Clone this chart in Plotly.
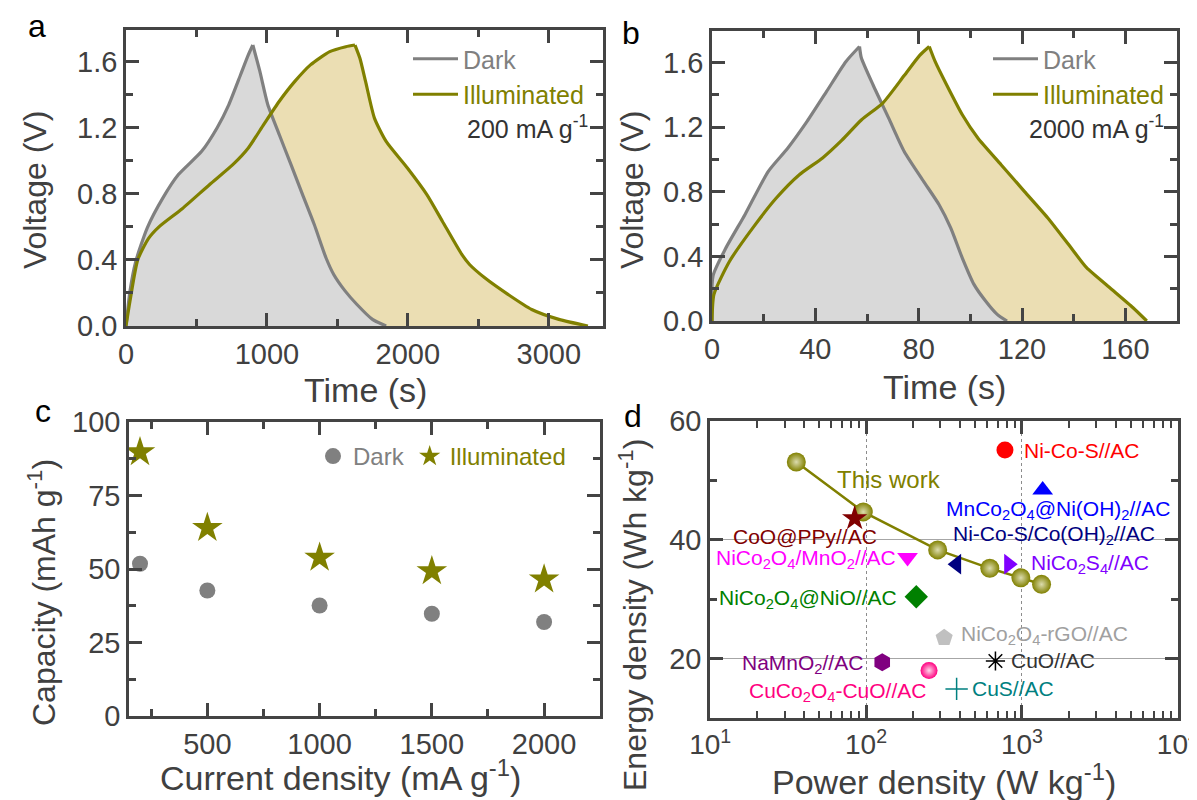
import numpy as np
import plotly.graph_objects as go

W, H = 1197, 800

# ---------------- data ----------------
# (a) GCD at 200 mA g-1
a_dark_t = [0, 28, 69, 151, 262, 372, 537, 647, 730, 813, 868, 900, 950, 1006, 1088, 1171, 1253, 1336, 1419, 1474, 1556, 1639, 1749, 1846]
a_dark_v = [0, 0.21, 0.39, 0.594, 0.775, 0.916, 1.057, 1.2, 1.34, 1.52, 1.64, 1.70, 1.54, 1.34, 1.157, 0.976, 0.795, 0.614, 0.413, 0.312, 0.211, 0.13, 0.04, 0.0]
a_illum_t = [0, 28, 83, 160, 234, 399, 592, 758, 868, 978, 1088, 1198, 1309, 1446, 1560, 1625, 1660, 1700, 1763, 1846, 1997, 2135, 2245, 2383, 2438, 2548, 2713, 2879, 3072, 3278]
a_illum_v = [0, 0.15, 0.40, 0.53, 0.60, 0.71, 0.855, 0.976, 1.077, 1.22, 1.36, 1.48, 1.58, 1.66, 1.69, 1.70, 1.62, 1.48, 1.258, 1.117, 0.956, 0.795, 0.634, 0.433, 0.372, 0.29, 0.19, 0.10, 0.04, 0.0]

# (b) GCD at 2000 mA g-1
b_dark_t = [0, 0.4, 5.3, 12.8, 21.8, 29.3, 36.8, 44.3, 51.8, 57.1, 57.8, 62.4, 68.4, 74.4, 81.9, 87.9, 92.4, 96.9, 101.4, 105.9, 110.4, 114.2]
b_dark_v = [0, 0.28, 0.45, 0.66, 0.927, 1.07, 1.236, 1.42, 1.606, 1.70, 1.63, 1.46, 1.256, 1.05, 0.865, 0.72, 0.577, 0.39, 0.227, 0.124, 0.041, 0.0]
b_illum_t = [0, 0.75, 6.8, 15.8, 24.8, 33.8, 42.8, 50.3, 57.8, 66.1, 74.4, 80.4, 84.1, 86.4, 90.9, 96.9, 102.9, 111.9, 120.9, 130, 139, 145, 154, 163, 168.3]
b_illum_v = [0, 0.165, 0.37, 0.577, 0.76, 0.906, 1.01, 1.12, 1.245, 1.35, 1.52, 1.645, 1.70, 1.606, 1.46, 1.277, 1.133, 0.968, 0.803, 0.638, 0.453, 0.33, 0.206, 0.082, 0.0]

# (c) capacity vs current density
c_current = [200, 500, 1000, 1500, 2000]
c_dark_cap = [51.8, 42.7, 37.6, 34.8, 32.0]
c_illum_cap = [89.8, 64.0, 53.9, 49.3, 46.5]

# (d) Ragone plot
d_work_power = [35.7, 96, 288, 622, 984, 1336]
d_work_energy = [53.1, 44.7, 38.3, 35.2, 33.6, 32.5]
d_ref_names = ["Ni-Co-S//AC",
               "MnCo<sub>2</sub>O<sub>4</sub>@Ni(OH)<sub>2</sub>//AC",
               "Ni-Co-S/Co(OH)<sub>2</sub>//AC",
               "NiCo<sub>2</sub>S<sub>4</sub>//AC",
               "CoO@PPy//AC",
               "NiCo<sub>2</sub>O<sub>4</sub>/MnO<sub>2</sub>//AC",
               "NiCo<sub>2</sub>O<sub>4</sub>@NiO//AC",
               "NiCo<sub>2</sub>O<sub>4</sub>-rGO//AC",
               "NaMnO<sub>2</sub>//AC",
               "CuCo<sub>2</sub>O<sub>4</sub>-CuO//AC",
               "CuO//AC",
               "CuS//AC"]
d_ref_power = [778, 1358, 381, 822, 84.5, 184.5, 210, 317, 127, 253.5, 676, 381]
d_ref_energy = [55.1, 48.4, 35.9, 35.9, 43.6, 37.0, 30.4, 23.5, 19.4, 18.0, 19.6, 14.9]
d_x_tickvals = [10, 100, 1000, 10000]
d_x_ticktext = ["10<sup>1</sup>", "10<sup>2</sup>", "10<sup>3</sup>", "10<sup>4</sup>"]
d_x_minorvals = [k * 10 ** e for e in (1, 2, 3) for k in range(2, 10)]

# ---------------- styles ----------------
GREY = "#808080"
OLIVE = "#808000"
GREY_FILL = "#d9d9d9"
TAN_FILL = "#ebdeb3"
AX = "#444444"
TXT = "#404040"
FONT = "Liberation Sans, Arial, sans-serif"

# symbol, marker colour, size, label colour, xanchor, xshift, yshift
d_ref_style = [
    ("circle", "#ff0000", 17, "#ff0000", "left", 17, 0),
    ("triangle-up", "#0000ff", 18, "#0000ff", "right", 129, -20),
    ("triangle-left", "#000080", 18, "#000080", "left", -6, 29),
    ("triangle-right", "#8000ff", 18, "#8000ff", "left", 20, 0),
    ("star", "#800000", 19, "#800000", "right", 24, -18),
    ("triangle-down", "#ff00ff", 18, "#ff00ff", "right", -10, -1),
    ("diamond", "#008000", 18, "#008000", "right", -17, -2),
    ("pentagon", "#c0c0c0", 18, "#a0a0a0", "left", 15, 3),
    ("hexagon", "#800080", 18, "#800080", "right", -17, -2),
    ("circle", "#ff0080", 17, "#ff0080", "right", -1, -22),
    ("asterisk-open", "#000000", 16, "#333333", "left", 14, 0),
    ("cross-thin-open", "#008080", 16, "#008080", "left", 13, 0),
]


def xd(l, r):
    return [l / W, r / W]


def yd(top, bottom):
    return [1 - bottom / H, 1 - top / H]


def split(t, v):
    k = int(np.argmax(v))
    return (t[:k + 1], v[:k + 1]), (t[k:], v[k:])


fig = go.Figure()


def add_gcd(t_d, v_d, t_i, v_i, xa, ya, legend):
    fig.add_trace(go.Scatter(x=t_i, y=v_i, mode="none", fill="tozeroy", fillcolor=TAN_FILL,
                             showlegend=False, hoverinfo="skip", xaxis=xa, yaxis=ya))
    fig.add_trace(go.Scatter(x=t_d, y=v_d, mode="none", fill="tozeroy", fillcolor=GREY_FILL,
                             showlegend=False, hoverinfo="skip", xaxis=xa, yaxis=ya))
    for j, (tt, vv) in enumerate(split(t_d, v_d)):
        fig.add_trace(go.Scatter(x=tt, y=vv, mode="lines",
                                 line=dict(color=GREY, width=3.2, shape="spline", smoothing=0.6),
                                 name='<span style="color:#808080">Dark</span>',
                                 showlegend=(j == 0), legend=legend, legendgroup=legend + "d",
                                 xaxis=xa, yaxis=ya))
    for j, (tt, vv) in enumerate(split(t_i, v_i)):
        fig.add_trace(go.Scatter(x=tt, y=vv, mode="lines",
                                 line=dict(color=OLIVE, width=3.2, shape="spline", smoothing=0.6),
                                 name='<span style="color:#808000">Illuminated</span>',
                                 showlegend=(j == 0), legend=legend, legendgroup=legend + "i",
                                 xaxis=xa, yaxis=ya))


add_gcd(a_dark_t, a_dark_v, a_illum_t, a_illum_v, "x", "y", "legend")
add_gcd(b_dark_t, b_dark_v, b_illum_t, b_illum_v, "x2", "y2", "legend2")

# (c)
fig.add_trace(go.Scatter(x=c_current, y=c_dark_cap, mode="markers",
                         marker=dict(symbol="circle", size=16, color=GREY),
                         name='<span style="color:#808080">Dark</span>', legend="legend3",
                         xaxis="x3", yaxis="y3"))
fig.add_trace(go.Scatter(x=c_current, y=c_illum_cap, mode="markers",
                         marker=dict(symbol="star", size=23, color=OLIVE),
                         name='<span style="color:#808000">Illuminated</span>', legend="legend3",
                         xaxis="x3", yaxis="y3"))

# (d)
# invisible carrier trace so the minor-tick overlay axis gets drawn
fig.add_trace(go.Scatter(x=d_work_power, y=d_work_energy, mode="none", showlegend=False,
                         hoverinfo="skip", xaxis="x5", yaxis="y4"))
fig.add_trace(go.Scatter(x=d_work_power, y=d_work_energy, mode="lines+markers",
                         line=dict(color=OLIVE, width=2.5),
                         marker=dict(size=19, color=OLIVE,
                                     gradient=dict(type="radial", color="#dcdcae")),
                         showlegend=False, xaxis="x4", yaxis="y4"))
annotations = []
for name, p, e, st in zip(d_ref_names, d_ref_power, d_ref_energy, d_ref_style):
    sym, col, size, lcol, xa, xs, ys = st
    mk = dict(symbol=sym, size=size, color=col)
    if sym.endswith("-open"):
        mk["line"] = dict(color=col, width=1.5)
    if name.startswith("CuCo"):
        mk["gradient"] = dict(type="radial", color="#ffd6ea")
    fig.add_trace(go.Scatter(x=[p], y=[e], mode="markers", marker=mk, showlegend=False,
                             xaxis="x4", yaxis="y4"))
    annotations.append(dict(x=np.log10(p), y=e, xref="x4", yref="y4", text=name, showarrow=False,
                            xanchor=xa, yanchor="middle", xshift=xs, yshift=ys,
                            font=dict(size=21, color=lcol, family=FONT)))
annotations.append(dict(x=np.log10(d_work_power[1]), y=d_work_energy[1], xref="x4", yref="y4",
                        text="This work", showarrow=False, xanchor="left", yanchor="middle",
                        xshift=-28, yshift=32, font=dict(size=24, color=OLIVE, family=FONT)))


def pa(x, y, text, size, color="#333333", xanchor="center", angle=0):
    annotations.append(dict(x=x / W, y=1 - y / H, xref="paper", yref="paper", text=text,
                            showarrow=False, xanchor=xanchor, yanchor="middle", textangle=angle,
                            font=dict(size=size, color=color, family=FONT)))


pa(29, 18, "a", 32, "#000000")
pa(623, 25, "b", 32, "#000000")
pa(35, 403, "c", 32, "#000000")
pa(625, 408, "d", 32, "#000000")
pa(457, 119, "200 mA g<sup>-1</sup>", 25, "#333333", "left")
pa(1019, 119, "2000 mA g<sup>-1</sup>", 25, "#333333", "left")
pa(27, 182, "Voltage (V)", 32, TXT, angle=-90)
pa(624, 182, "Voltage (V)", 32, TXT, angle=-90)
pa(34, 585, "Capacity (mAh g<sup>-1</sup>)", 32, TXT, angle=-90)
pa(625, 607, "Energy density (Wh kg<sup>-1</sup>)", 32, TXT, angle=-90)
pa(357, 382, "Time (s)", 34, TXT)
pa(936, 379, "Time (s)", 34, TXT)
pa(332, 767, "Current density (mA g<sup>-1</sup>)", 34, TXT)
pa(936, 771, "Power density (W kg<sup>-1</sup>)", 34, TXT)


def axis(domain, rng, dtick, minor_dtick, anchor, **kw):
    d = dict(domain=domain, range=rng, anchor=anchor, automargin=False,
             showline=True, linewidth=2.6, linecolor=AX, mirror="ticks",
             ticks="inside", ticklen=13, tickwidth=2.6, tickcolor=AX,
             tickfont=dict(size=29, color=TXT, family=FONT),
             showgrid=False, zeroline=False)
    if dtick is not None:
        d["dtick"] = dtick
    if minor_dtick is not None:
        d["minor"] = dict(ticks="inside", ticklen=7, tickwidth=2.6, tickcolor=AX,
                          dtick=minor_dtick, showgrid=False)
    d.update(kw)
    return d


D_X = xd(702, 1170)
D_RANGE = [0.999, 4.001]

layout = dict(
    template="none",
    width=W, height=H, margin=dict(l=0, r=0, t=0, b=0, autoexpand=False),
    paper_bgcolor="white", plot_bgcolor="white",
    font=dict(family=FONT, color=TXT),
    xaxis=axis(xd(118, 595), [0, 3385], 1000, 500, "y"),
    yaxis=axis(yd(22, 318), [0, 1.791], 0.4, 0.2, "x", tickformat=".1f"),
    xaxis2=axis(xd(704, 1169), [0, 180], 40, 20, "y2"),
    yaxis2=axis(yd(23, 313), [0, 1.796], 0.4, 0.2, "x2", tickformat=".1f"),
    xaxis3=axis(xd(121, 592), [151, 2249], 500, 250, "y3", tick0=0),
    yaxis3=axis(yd(414, 708), [0, 100.05], 25, 12.5, "x3", tick0=0),
    xaxis4=axis(D_X, D_RANGE, None, None, "y4", type="log",
                tickmode="array", tickvals=d_x_tickvals, ticktext=d_x_ticktext,
                ticklabeloverflow="allow", tickfont=dict(size=28, color=TXT, family=FONT),
                showgrid=True, gridcolor="#8c8c8c", gridwidth=1, griddash="dot"),
    xaxis5=dict(overlaying="x4", anchor="y4", type="log", range=D_RANGE, domain=D_X,
                tickmode="array", tickvals=d_x_minorvals, ticks="inside", ticklen=7,
                tickwidth=2.2, tickcolor=AX, showticklabels=False, showline=False,
                showgrid=False, zeroline=False, mirror="ticks", automargin=False),
    yaxis4=axis(yd(413, 710), [10, 60], 20, 10, "x4", tick0=0,
                showgrid=True, gridcolor="#a6a6a6", gridwidth=1),
    legend=dict(x=400 / W, y=1 - 28 / H, xanchor="left", yanchor="top", bgcolor="rgba(0,0,0,0)",
                font=dict(size=25, family=FONT), itemwidth=45, tracegroupgap=0),
    legend2=dict(x=980 / W, y=1 - 28 / H, xanchor="left", yanchor="top", bgcolor="rgba(0,0,0,0)",
                 font=dict(size=25, family=FONT), itemwidth=45, tracegroupgap=0),
    legend3=dict(x=305 / W, y=1 - 426 / H, xanchor="left", yanchor="top", orientation="h",
                 bgcolor="rgba(0,0,0,0)", font=dict(size=24, family=FONT)),
    annotations=annotations,
)
fig.update_layout(**layout)

fig.write_html("out.html")
